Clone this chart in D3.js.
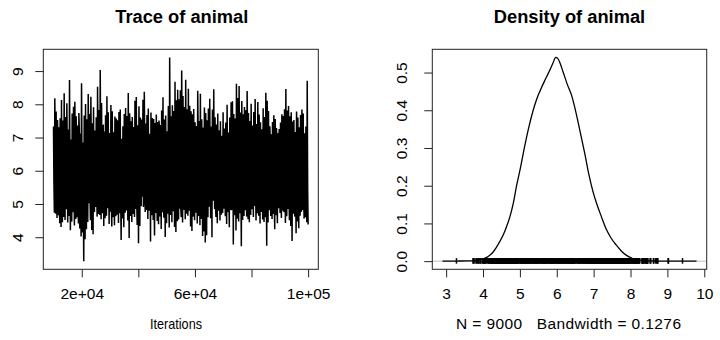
<!DOCTYPE html>
<html>
<head>
<meta charset="utf-8">
<script src="https://cdn.jsdelivr.net/npm/d3@7"></script>
<style>
  html, body { margin: 0; padding: 0; background: #fff; }
  svg { display: block; }
  text { font-family: "Liberation Sans", Arial, Helvetica, sans-serif; fill: #000; }
</style>
</head>
<body>
<svg id="chart" width="720" height="340"></svg>
<script>
// ---------------- data ----------------
const iterStart = 10010;
const iterEnd = 100000;

// per-column upper extremes of the trace (left to right)
const traceHigh = [
  7.33,8.18,7.78,7.53,7.31,7.58,8.13,7.51,8.33,7.62,
  8.03,7.24,8.73,6.94,7.72,7.93,8.08,7.64,7.36,7.74,
  7.12,8.63,6.85,7.66,8.01,7.55,8.31,7.71,8.23,7.43,
  7.91,7.21,7.61,8.53,7.83,9.03,8.04,7.35,7.18,7.67,
  8.24,7.76,7.14,7.98,7.79,7.16,7.63,7.57,
  7.52,7.77,7.84,6.92,7.34,7.71,7.89,7.65,8.34,7.73,
  7.49,7.62,7.32,8.11,8.22,7.37,7.94,7.60,7.54,8.14,
  8.38,7.42,7.68,7.87,7.11,7.75,7.59,7.56,7.44,7.69,
  7.47,7.51,7.38,7.81,8.21,7.54,7.66,7.19,7.95,9.41,
  7.64,7.97,7.80,8.68,8.12,8.44,8.15,8.42,
  9.02,8.25,7.92,8.74,7.85,8.47,7.96,7.79,7.70,7.86,
  7.46,7.35,8.41,7.50,8.32,7.55,7.30,7.90,7.74,7.52,
  7.87,8.17,6.95,7.84,8.45,7.61,7.39,7.72,7.22,7.49,
  6.97,7.76,7.27,7.45,7.99,7.15,7.60,8.06,8.09,7.71,
  7.57,8.62,8.19,8.55,7.75,8.10,7.70,7.92,
  7.82,8.40,7.74,7.50,8.02,7.36,7.77,8.16,7.41,8.07,
  7.69,7.46,7.25,7.88,7.62,8.35,8.11,7.80,7.34,7.10,
  7.47,7.67,7.56,7.29,7.04,7.26,7.45,7.70,7.65,7.85,
  8.46,7.81,7.95,7.64,7.76,7.48,7.53,7.17,7.78,7.60,
  7.31,7.68,7.84,7.72,7.13,7.33,8.71
];

// values inside the solid band (estimated)
const traceMid = [
  5.62,6.48,5.07,6.91,5.84,6.23,4.97,7.12,6.05,5.39,
  6.77,5.51,6.34,4.88,7.03,5.96,6.62,5.23,6.15,7.28,
  5.71,6.41,5.02,6.86,5.45,6.09,7.19,5.33,6.55,5.88,
  4.79,6.27,5.66,6.98,5.14,6.72,5.92,7.36,5.28,6.38,
  6.01,5.57,6.83,4.93,6.19,5.79,7.07,5.41,6.66,6.12,
  5.19,6.94,5.73,6.31,4.84,6.58,5.99,7.24,5.36,6.44,
  5.81,6.07,5.11,6.79,5.53,7.15,6.25,4.91,6.69,5.64,
  6.36,5.26,7.01,5.87,6.51,5.04,6.88,5.48,6.17,7.31,
  5.69,6.29,4.99,6.74,5.94,6.46,5.31,7.09,5.76,6.03,
  6.63,5.16,6.96,5.59,6.21,4.86,6.81,5.43,7.21,5.91,
  6.39,5.24,6.57,5.83,6.99,5.09,6.33,5.67,7.17,6.11,
  5.47,6.71,5.01,6.43,5.78,6.93,5.34,6.14,7.33,5.61,
  6.26,4.95,6.85,5.55,6.49,5.97,7.05,5.21,6.67,5.86,
  6.08,5.38,6.76,4.81,6.35,5.74,7.26,5.13,6.59,6.02,
  5.49,6.89,5.29,6.22,5.93,7.11,5.06,6.45,5.63,6.78,
  6.18,5.44,7.02,4.89,6.53,5.82,6.31,5.17,7.22,5.95,
  6.64,5.27,6.92,5.58,6.37,5.03,6.82,5.72,7.14,6.06,
  5.41,6.61,4.94,6.97,5.85,6.24,5.32,7.08,5.68,6.42,
  6.13,5.52,6.87,5.08,6.47,5.89,7.29,5.22,6.73,6.04,
  5.46
];

// per-column lower extremes of the trace (left to right)
const traceLow = [
  4.74,4.71,4.58,4.66,4.42,4.31,4.45,4.61,4.52,4.84,
  4.44,4.64,4.21,4.47,4.75,4.35,4.55,4.60,4.41,4.26,
  4.02,4.14,3.28,3.94,4.24,4.46,5.02,4.51,4.22,4.09,
  4.76,4.91,4.62,4.70,4.67,4.54,4.72,4.34,4.57,4.65,
  4.87,4.40,4.77,4.32,4.60,4.36,4.63,4.68,
  4.43,4.72,3.92,4.56,4.30,4.74,4.81,4.50,3.98,4.64,
  4.46,4.70,4.61,4.85,4.37,3.82,4.34,4.93,5.22,5.12,
  4.76,4.82,4.55,4.80,3.87,4.66,4.52,4.05,4.73,4.49,
  4.39,4.62,4.25,4.75,4.59,4.01,4.42,4.71,4.29,4.67,
  4.45,4.78,4.31,4.16,4.48,4.53,4.86,4.60,
  4.44,4.82,4.54,4.71,4.65,4.80,4.32,4.19,4.62,4.51,
  4.74,4.41,4.64,4.36,4.55,4.04,4.17,3.84,4.06,4.60,
  4.92,4.57,4.00,5.10,4.85,4.61,4.42,4.80,4.50,4.68,
  4.73,4.86,4.63,4.40,4.75,4.30,4.82,5.14,3.78,4.66,
  4.20,4.56,4.47,4.72,3.73,4.52,4.64,4.81,
  4.62,4.54,4.45,4.67,4.84,4.61,4.94,4.50,4.72,4.65,
  4.41,4.76,4.53,4.46,4.60,3.74,4.44,4.81,4.64,4.55,
  4.70,4.24,4.66,4.42,4.87,4.73,4.58,4.80,4.75,4.43,
  4.63,4.85,4.51,4.34,3.89,4.71,4.62,4.12,4.47,4.27,
  4.65,4.77,4.82,4.56,4.60,4.45,4.38
];

// kernel density curve (x, density)
const densX = [2.90,3.30,3.60,3.74,3.90,4.01,4.10,4.19,4.28,4.37,4.46,4.55,4.64,4.73,4.82,4.91,
               5.02,5.12,5.23,5.36,5.45,5.54,5.68,5.79,5.90,5.97,6.03,6.10,6.17,6.28,6.40,6.53,
               6.64,6.76,6.87,6.98,7.09,7.21,7.34,7.48,7.61,7.75,7.88,8.06,8.29,8.51,8.80,9.20,9.79];
const densY = [0.0000,0.0003,0.0008,0.0015,0.0035,0.0065,0.0100,0.0160,0.0250,0.0380,0.0530,0.0700,0.0920,0.1180,0.1530,0.2000,
               0.2500,0.3000,0.3500,0.4000,0.4280,0.4500,0.4800,0.5020,0.5260,0.5400,0.5370,0.5220,0.5020,0.4700,0.4400,0.3900,
               0.3400,0.2850,0.2300,0.1850,0.1500,0.1180,0.0850,0.0600,0.0430,0.0270,0.0160,0.0070,0.0025,0.0008,0.0003,0.0001,0.0000];

const sampleSize = 9000;
const bandwidth = 0.1276;

const traceXTicks = [20000, 40000, 60000, 80000, 100000];
const traceXLabels = ["2e+04", "", "6e+04", "", "1e+05"];
const traceYTicks = [4, 5, 6, 7, 8, 9];
const densXTicks = [3, 4, 5, 6, 7, 8, 9, 10];
const densYTicks = [0, 0.1, 0.2, 0.3, 0.4, 0.5];
const densYLabels = ["0.0", "0.1", "0.2", "0.3", "0.4", "0.5"];

const titles = ["Trace of animal", "Density of animal"];
const traceXLabel = "Iterations";

// ---------------- drawing ----------------
const svg = d3.select("#chart");
const pad = ([a, b]) => [a - 0.04 * (b - a), b + 0.04 * (b - a)];

// chain in order: per column high, mid, low
const ncol = Math.min(traceHigh.length, traceMid.length, traceLow.length);
const chain = [];
for (let i = 0; i < ncol; i++) chain.push(traceHigh[i], traceMid[i], traceLow[i]);
const step = (iterEnd - iterStart) / (chain.length - 1);
const trace = chain.map((v, k) => ({ it: iterStart + k * step, v }));

const L = { x0: 43.3, x1: 318.3, y0: 49.3, y1: 269.3 };
const R = { x0: 432.3, x1: 706.7, y0: 49.3, y1: 269.3 };
const tickLen = 8;
const tickFont = 15.5;

// ----- trace panel -----
const tx = d3.scaleLinear().domain(pad([iterStart, iterEnd])).range([L.x0, L.x1]);
const ty = d3.scaleLinear().domain(pad(d3.extent(chain))).range([L.y1, L.y0]);

const gL = svg.append("g");
gL.append("path")
  .datum(trace)
  .attr("fill", "none")
  .attr("stroke", "#000")
  .attr("stroke-width", 1.5)
  .attr("d", d3.line().x(d => tx(d.it)).y(d => ty(d.v)));

gL.append("rect").attr("x", L.x0).attr("y", L.y0)
  .attr("width", L.x1 - L.x0).attr("height", L.y1 - L.y0)
  .attr("fill", "none").attr("stroke", "#222").attr("stroke-width", 1);

const axL = gL.append("g").attr("transform", `translate(0,${L.y1})`)
  .call(d3.axisBottom(tx).tickValues(traceXTicks).tickSize(tickLen)
        .tickFormat((d, i) => traceXLabels[i]));
const ayL = gL.append("g").attr("transform", `translate(${L.x0},0)`)
  .call(d3.axisLeft(ty).tickValues(traceYTicks).tickSize(tickLen).tickFormat(d3.format("d")));

// ----- density panel -----
const dx = d3.scaleLinear().domain(pad([densX[0], densX[densX.length - 1]])).range([R.x0, R.x1]);
const dy = d3.scaleLinear().domain(pad([0, d3.max(densY)])).range([R.y1, R.y0]);
const gR = svg.append("g");

gR.append("line")
  .attr("x1", R.x0).attr("x2", R.x1)
  .attr("y1", dy(0)).attr("y2", dy(0))
  .attr("stroke", "#bebebe").attr("stroke-width", 1);

const rugTop = dy(d3.max(densY) / 100);
gR.append("g").selectAll("line")
  .data(chain)
  .join("line")
  .attr("x1", d => dx(d)).attr("x2", d => dx(d))
  .attr("y1", dy(0) + 2.5).attr("y2", rugTop - 1)
  .attr("stroke", "#000").attr("stroke-width", 1.5);

const dens = densX.map((x, i) => ({ x, y: densY[i] }));
gR.append("path")
  .datum(dens)
  .attr("fill", "none")
  .attr("stroke", "#000")
  .attr("stroke-width", 1.3)
  .attr("d", d3.line().x(d => dx(d.x)).y(d => dy(d.y)).curve(d3.curveMonotoneX));

gR.append("rect").attr("x", R.x0).attr("y", R.y0)
  .attr("width", R.x1 - R.x0).attr("height", R.y1 - R.y0)
  .attr("fill", "none").attr("stroke", "#222").attr("stroke-width", 1);

const axR = gR.append("g").attr("transform", `translate(0,${R.y1})`)
  .call(d3.axisBottom(dx).tickValues(densXTicks).tickSize(tickLen).tickFormat(d3.format("d")));
const ayR = gR.append("g").attr("transform", `translate(${R.x0},0)`)
  .call(d3.axisLeft(dy).tickValues(densYTicks).tickSize(tickLen)
        .tickFormat((d, i) => densYLabels[i]));

[axL, ayL, axR, ayR].forEach(a => {
  a.select(".domain").remove();
  a.selectAll(".tick line").attr("stroke", "#222").attr("stroke-width", 1);
  a.selectAll(".tick text").style("font-size", tickFont + "px")
    .style("font-family", "'Liberation Sans', Arial, sans-serif").attr("fill", "#000");
});
[axL, axR].forEach(a => {
  a.selectAll(".tick text").attr("y", 29.5).attr("dy", null);
});
[[ayL, -26], [ayR, -31]].forEach(([a, off]) => {
  a.selectAll(".tick text")
    .attr("x", null).attr("dy", null).attr("y", 0)
    .attr("text-anchor", "middle")
    .attr("transform", `translate(${off},0) rotate(-90)`)
    .attr("dominant-baseline", "central");
});

svg.append("text").attr("x", (L.x0 + L.x1) / 2 + 1).attr("y", 23)
  .attr("text-anchor", "middle").style("font-size", "18.3px").style("font-weight", "bold")
  .text(titles[0]);
svg.append("text").attr("x", (R.x0 + R.x1) / 2).attr("y", 23)
  .attr("text-anchor", "middle").style("font-size", "18.3px").style("font-weight", "bold")
  .text(titles[1]);
svg.append("text").attr("x", 176).attr("y", 329)
  .attr("text-anchor", "middle").style("font-size", "15px")
  .attr("textLength", 52).attr("lengthAdjust", "spacingAndGlyphs")
  .text(traceXLabel);
svg.append("text").attr("x", (R.x0 + R.x1) / 2 - 1).attr("y", 329)
  .attr("text-anchor", "middle").style("font-size", "15.5px").style("white-space", "pre")
  .attr("textLength", 225).attr("lengthAdjust", "spacing")
  .text(`N = ${sampleSize}   Bandwidth = ${bandwidth}`);
</script>
</body>
</html>
